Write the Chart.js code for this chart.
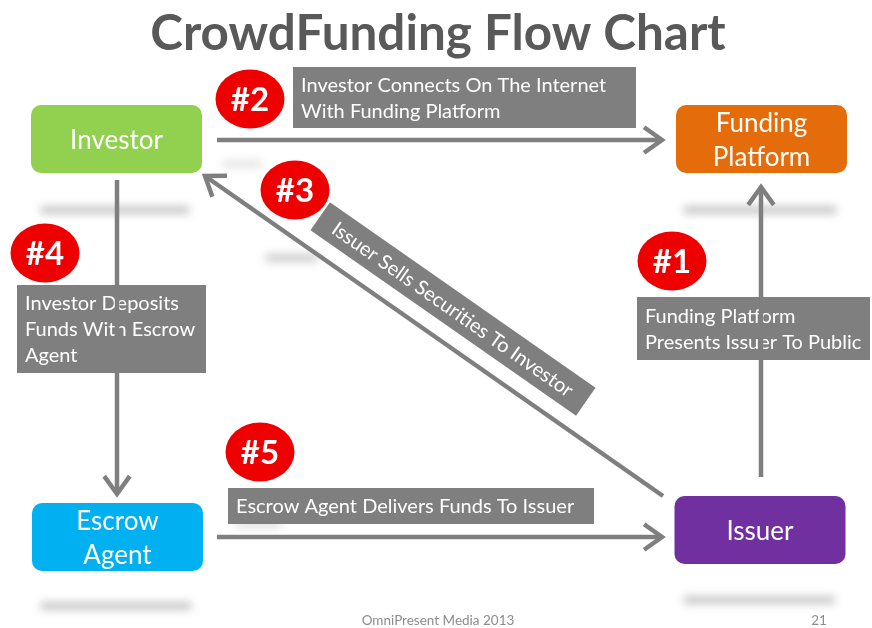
<!DOCTYPE html>
<html>
<head>
<meta charset="utf-8">
<script src="https://cdn.jsdelivr.net/npm/chart.js@4.4.0/dist/chart.umd.min.js"></script>
<style>
  html, body { margin: 0; padding: 0; background: #fff; }
</style>
</head>
<body>
<canvas id="myChart" width="872" height="628"></canvas>
<script>
// slide units: x 0..872 left to right, y 0..628 top to bottom
const nodeNames = [["Investor"], ["Funding", "Platform"], ["Escrow", "Agent"], ["Issuer"]];
const nodeX = [116.5, 761.5, 117.5, 760];
const nodeY = [139, 139, 537, 530];
const nodeColors = ["#92d050", "#e46c0a", "#00b0f0", "#7030a0"];

const stepNums = ["#1", "#2", "#3", "#4", "#5"];
const stepX = [672, 250, 295, 45, 260];
const stepY = [261, 99, 190, 253, 452];
const stepText = [
  ["Funding Platform", "Presents Issuer To Public"],
  ["Investor Connects On The Internet", "With Funding Platform"],
  ["Issuer Sells Securities To Investor"],
  ["Investor Deposits", "Funds With Escrow", "Agent"],
  ["Escrow Agent Delivers Funds To Issuer"],
];

// arrows, one per step
const edgeFromX = [761, 217, 663, 117, 217];
const edgeFromY = [477, 140, 496, 180, 537];
const edgeToX = [761, 662, 205, 117, 662];
const edgeToY = [187, 140, 176, 494, 537];

// grey caption boxes: left, top, right, bottom (step #3 follows its arrow)
const boxL = [637, 293, 0, 17, 228];
const boxT = [297, 67, 0, 285, 488];
const boxR = [870, 636, 0, 206, 594];
const boxB = [360, 128, 0, 373, 524];

const GREY = "#7f7f7f";

// red badge used as point style
const badge = document.createElement("canvas");
badge.width = 70;
badge.height = 60;
(function () {
  const c = badge.getContext("2d");
  c.fillStyle = "#ee0000";
  c.beginPath();
  c.ellipse(35, 30, 34.5, 29.5, 0, 0, Math.PI * 2);
  c.fill();
})();

function roundRect(ctx, x, y, w, h, r) {
  ctx.beginPath();
  ctx.moveTo(x + r, y);
  ctx.arcTo(x + w, y, x + w, y + h, r);
  ctx.arcTo(x + w, y + h, x, y + h, r);
  ctx.arcTo(x, y + h, x, y, r);
  ctx.arcTo(x, y, x + w, y, r);
  ctx.closePath();
}

const slidePlugin = {
  id: "slide",
  beforeDatasetsDraw(chart) {
    const ctx = chart.ctx;
    const px = (v) => chart.scales.x.getPixelForValue(v);
    const py = (v) => chart.scales.y.getPixelForValue(v);

    // soft reflections under the boxes
    const shadows = [[40, 190, 210, 0.22], [683, 837, 210, 0.22], [265, 318, 258, 0.2], [683, 835, 600, 0.22], [40, 192, 606, 0.22], [222, 262, 164, 0.1], [234, 282, 524, 0.12]];
    ctx.save();
    ctx.filter = "blur(4px)";
    shadows.forEach((s) => {
      ctx.fillStyle = "rgba(0,0,0," + s[3] + ")";
      roundRect(ctx, px(s[0]), py(s[2]) - 4, px(s[1]) - px(s[0]), 8, 4);
      ctx.fill();
    });
    ctx.restore();

    ctx.save();
    ctx.font = "20px Lato";
    ctx.textBaseline = "alphabetic";
    stepText.forEach((lines, i) => {
      if (i === 2) return;
      const l = px(boxL[i]), t = py(boxT[i]), r = px(boxR[i]), b = py(boxB[i]);
      ctx.fillStyle = GREY;
      ctx.fillRect(l, t, r - l, b - t);
      ctx.fillStyle = "#ffffff";
      ctx.textAlign = "left";
      const lh = 26;
      const top = t + (b - t - lh * lines.length) / 2;
      lines.forEach((line, k) => {
        ctx.fillText(line, l + 8, top + lh * k + 20);
      });
    });

    // step #3 caption, rotated along its arrow
    const m = chart.getDatasetMeta(3);
    const p0 = m.data[0], p1 = m.data[1];
    const ang = Math.atan2(p0.y - p1.y, p0.x - p1.x);
    ctx.translate(px(453), py(309));
    ctx.rotate(ang);
    ctx.fillStyle = GREY;
    ctx.fillRect(-162, -17, 324, 34);
    ctx.fillStyle = "#ffffff";
    ctx.textAlign = "center";
    ctx.textBaseline = "middle";
    ctx.fillText(stepText[2][0], 0, 1);
    ctx.restore();
  },
  afterDatasetsDraw(chart) {
    const ctx = chart.ctx;
    const px = (v) => chart.scales.x.getPixelForValue(v);
    const py = (v) => chart.scales.y.getPixelForValue(v);

    // arrow heads
    ctx.save();
    ctx.strokeStyle = GREY;
    ctx.lineWidth = 4.5;
    ctx.lineJoin = "miter";
    for (let i = 1; i <= edgeFromX.length; i++) {
      const d = chart.getDatasetMeta(i).data;
      const a = Math.atan2(d[1].y - d[0].y, d[1].x - d[0].x);
      const len = 22, spread = 0.62;
      ctx.beginPath();
      ctx.moveTo(d[1].x - len * Math.cos(a - spread), d[1].y - len * Math.sin(a - spread));
      ctx.lineTo(d[1].x, d[1].y);
      ctx.lineTo(d[1].x - len * Math.cos(a + spread), d[1].y - len * Math.sin(a + spread));
      ctx.stroke();
    }
    ctx.restore();

    // nodes
    ctx.save();
    nodeNames.forEach((lines, i) => {
      const l = px(nodeX[i] - 85.5), r = px(nodeX[i] + 85.5);
      const t = py(nodeY[i] - 34), b = py(nodeY[i] + 34);
      ctx.fillStyle = nodeColors[i];
      roundRect(ctx, l, t, r - l, b - t, 10);
      ctx.fill();
      ctx.fillStyle = "#ffffff";
      ctx.font = "26px Lato";
      ctx.textAlign = "center";
      ctx.textBaseline = "middle";
      const cy = py(nodeY[i]);
      lines.forEach((line, k) => {
        ctx.fillText(line, px(nodeX[i]), cy + (k - (lines.length - 1) / 2) * 34 + 2);
      });
    });

    // badge numbers
    ctx.font = "bold 33px Lato";
    stepNums.forEach((s, i) => {
      ctx.fillText(s, px(stepX[i]), py(stepY[i]) + 1);
    });

    // title
    const title = "CrowdFunding Flow Chart";
    ctx.font = "bold 100px Lato";
    const size = 100 * 576 / ctx.measureText(title).width;
    ctx.font = "bold " + size.toFixed(1) + "px Lato";
    ctx.fillStyle = "#595959";
    ctx.textBaseline = "alphabetic";
    ctx.fillText(title, 438, 50);

    // footer
    ctx.font = "13.5px Lato";
    ctx.fillStyle = "#8c8c8c";
    ctx.fillText("OmniPresent Media 2013", 438, 625);
    ctx.fillText("21", 819, 625);
    ctx.restore();
  },
};

const datasets = [
  {
    label: "steps",
    type: "scatter",
    data: stepX.map((x, i) => ({ x: x, y: stepY[i] })),
    pointStyle: badge,
    pointRadius: 30,
  },
];
edgeFromX.forEach((x, i) => {
  datasets.push({
    label: stepNums[i],
    type: "line",
    data: [{ x: x, y: edgeFromY[i] }, { x: edgeToX[i], y: edgeToY[i] }],
    borderColor: GREY,
    borderWidth: 4.5,
    pointRadius: 0,
    clip: false,
  });
});

let ctx = document.getElementById("myChart").getContext("2d");
let myChart = new Chart(ctx, {
  type: "scatter",
  data: { datasets: datasets },
  options: {
    responsive: false,
    animation: false,
    devicePixelRatio: 1,
    layout: { padding: 0, autoPadding: false },
    plugins: { legend: { display: false }, tooltip: { enabled: false } },
    scales: {
      x: { type: "linear", min: 0, max: 872, display: false },
      y: { type: "linear", min: 0, max: 628, reverse: true, display: false },
    },
  },
  plugins: [slidePlugin],
});
</script>
</body>
</html>
